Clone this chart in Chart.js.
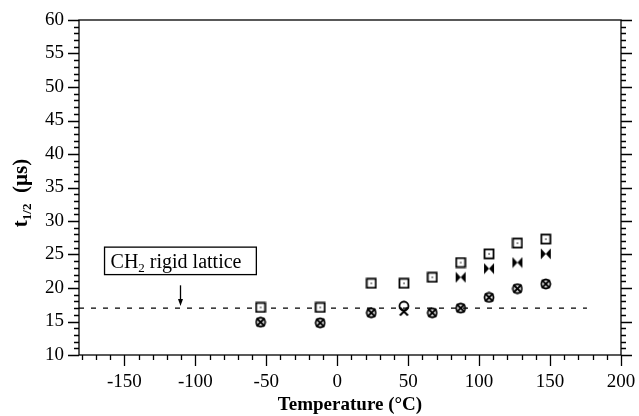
<!DOCTYPE html>
<html>
<head>
<meta charset="utf-8">
<script src="https://cdn.jsdelivr.net/npm/chart.js@4"></script>
<style>
  body { margin: 0; background: #fff; }
  canvas { display: block; }
</style>
</head>
<body>
<canvas id="grafico" width="639" height="416"></canvas>
<script>
// datos
var temps = [-54, -12, 24, 47, 67, 87, 107, 127, 147];
var squareVals = [17.1, 17.1, 20.7, 20.7, 21.6, 23.8, 25.1, 26.7, 27.3];
var circleVals = [14.9, 14.8, 16.3, 17.3, 16.3, 17.0, 18.6, 19.9, 20.6];
var crossVals = [14.9, 14.8, 16.3, 16.5, 16.3, 17.0, 18.6, 19.9, 20.6];
var bowTemps = [87, 107, 127, 147];
var bowVals = [21.6, 22.9, 23.8, 25.1];
var refLineX = [-182, 176];
var refLineY = [17, 17];
var xTicks = [-150, -100, -50, 0, 50, 100, 150, 200];

Chart.defaults.font.family = "'Liberation Serif', serif";
Chart.defaults.color = '#000';

function pares(xs, ys) {
    return xs.map(function(x, i) { return { x: x, y: ys[i] }; });
}

// marcadores dibujados en canvas pequeños
function marcador(size, dibujar) {
    var c = document.createElement('canvas');
    c.width = size; c.height = size;
    var g = c.getContext('2d');
    g.strokeStyle = '#000';
    g.fillStyle = '#000';
    dibujar(g, size);
    return c;
}

var cuadrado = marcador(12, function(g) {
    g.fillStyle = '#fff';
    g.fillRect(1, 1, 10, 10);
    g.lineWidth = 1.8;
    g.strokeRect(1.5, 1.5, 9, 9);
    g.fillStyle = '#000';
    g.fillRect(5.4, 5.4, 1.3, 1.3);
});

var circulo = marcador(12, function(g) {
    g.lineWidth = 1.8;
    g.beginPath();
    g.arc(6, 6, 4.5, 0, Math.PI * 2);
    g.stroke();
});

var cruz = marcador(11, function(g) {
    g.lineWidth = 2;
    g.beginPath();
    g.moveTo(1.5, 1.5); g.lineTo(9.5, 9.5);
    g.moveTo(9.5, 1.5); g.lineTo(1.5, 9.5);
    g.stroke();
});

var corbata = marcador(12, function(g) {
    g.beginPath();
    g.moveTo(1, 0.5); g.lineTo(1, 11.5); g.lineTo(6, 6); g.closePath();
    g.moveTo(11, 0.5); g.lineTo(11, 11.5); g.lineTo(6, 6); g.closePath();
    g.fill();
});

// ejes con marcas menores y anotacion
var decoracion = {
    id: 'decoracion',
    afterDraw: function(chart) {
        var ctx = chart.ctx;
        var a = chart.chartArea;
        var xs = chart.scales.x, ys = chart.scales.y;
        ctx.save();
        ctx.strokeStyle = '#000';
        ctx.lineWidth = 1.3;
        ctx.strokeRect(a.left, a.top, a.right - a.left, a.bottom - a.top);
        ctx.beginPath();
        for (var v = 10; v <= 60; v++) {
            var py = Math.round(ys.getPixelForValue(v)) + 0.5;
            var len = v % 5 === 0 ? 11 : 5;
            ctx.moveTo(a.left - len, py); ctx.lineTo(a.left, py);
            ctx.moveTo(a.right, py); ctx.lineTo(a.right + len, py);
        }
        for (var t = -180; t <= 200; t += 10) {
            var px = Math.round(xs.getPixelForValue(t)) + 0.5;
            var l2 = t % 50 === 0 ? 11 : 5;
            ctx.moveTo(px, a.bottom); ctx.lineTo(px, a.bottom + l2);
        }
        ctx.stroke();

        // titulo del eje y con subindice
        ctx.translate(20, 193);
        ctx.rotate(-Math.PI / 2);
        ctx.textBaseline = 'alphabetic';
        var f1 = "bold 21px 'Liberation Serif'", f2 = "bold 13px 'Liberation Serif'";
        ctx.font = f1; var w1 = ctx.measureText('t').width;
        ctx.font = f2; var w2 = ctx.measureText('1/2').width;
        ctx.font = f1; var w3 = ctx.measureText('  (\u00b5s)').width;
        var x0 = -(w1 + w2 + w3) / 2;
        ctx.font = f1; ctx.fillText('t', x0, 7);
        ctx.font = f2; ctx.fillText('1/2', x0 + w1, 11);
        ctx.font = f1; ctx.fillText('  (\u00b5s)', x0 + w1 + w2, 7);
        ctx.restore();

        // recuadro "CH2 rigid lattice" y flecha
        ctx.save();
        var bl = xs.getPixelForValue(-164), br = xs.getPixelForValue(-57);
        var bt = ys.getPixelForValue(26.1), bb = ys.getPixelForValue(22.0);
        ctx.fillStyle = '#fff';
        ctx.fillRect(bl, bt, br - bl, bb - bt);
        ctx.strokeStyle = '#000';
        ctx.lineWidth = 1.3;
        ctx.strokeRect(bl, bt, br - bl, bb - bt);
        ctx.fillStyle = '#000';
        ctx.textBaseline = 'alphabetic';
        var ty = (bt + bb) / 2 + 7;
        ctx.font = "20px 'Liberation Serif'";
        var tx = bl + 6;
        ctx.fillText('CH', tx, ty);
        tx += ctx.measureText('CH').width;
        ctx.font = "13px 'Liberation Serif'";
        ctx.fillText('2', tx, ty + 4);
        tx += ctx.measureText('2').width;
        ctx.font = "20px 'Liberation Serif'";
        ctx.fillText(' rigid lattice', tx, ty);

        var ax = Math.round(xs.getPixelForValue(-111)) + 0.5;
        var ay1 = ys.getPixelForValue(20.4), ay2 = ys.getPixelForValue(17.3);
        ctx.lineWidth = 1.3;
        ctx.beginPath();
        ctx.moveTo(ax, ay1); ctx.lineTo(ax, ay2 - 5);
        ctx.stroke();
        ctx.beginPath();
        ctx.moveTo(ax - 2.5, ay2 - 7); ctx.lineTo(ax + 2.5, ay2 - 7); ctx.lineTo(ax, ay2);
        ctx.closePath();
        ctx.fill();
        ctx.restore();
    }
};

var ctx = document.getElementById('grafico').getContext('2d');

var grafico = new Chart(ctx, {
    type: 'scatter',
    data: {
        datasets: [
            { label: 'cuadrados', data: pares(temps, squareVals), pointStyle: cuadrado, pointRadius: 5 },
            { label: 'corbatas', data: pares(bowTemps, bowVals), pointStyle: corbata, pointRadius: 5 },
            { label: 'cruces', data: pares(temps, crossVals), pointStyle: cruz, pointRadius: 5 },
            { label: 'circulos', data: pares(temps, circleVals), pointStyle: circulo, pointRadius: 5 },
            {
                label: 'red rigida', type: 'line', data: pares(refLineX, refLineY),
                borderColor: '#000', borderWidth: 1.4, borderDash: [5, 7],
                pointRadius: 0, fill: false, order: 1
            }
        ]
    },
    options: {
        responsive: false,
        animation: false,
        layout: { padding: { top: 20, right: 18, left: 0, bottom: 0 } },
        plugins: { legend: { display: false }, tooltip: { enabled: false } },
        scales: {
            x: {
                type: 'linear', min: -182, max: 200,
                grid: { display: false, drawTicks: false },
                border: { display: false },
                afterBuildTicks: function(s) { s.ticks = xTicks.map(function(v) { return { value: v }; }); },
                afterFit: function(s) { s.height = 61; s.paddingLeft = 0; s.paddingRight = 0; },
                ticks: { font: { size: 19 }, padding: 16, maxRotation: 0, autoSkip: false },
                title: {
                    display: true, text: 'Temperature (\u00b0C)',
                    font: { size: 19, weight: 'bold' }, padding: { top: 0, bottom: 0 }
                }
            },
            y: {
                min: 10, max: 60,
                grid: { display: false, drawTicks: false },
                border: { display: false },
                afterFit: function(s) { s.width = 79; s.paddingTop = 0; s.paddingBottom = 0; },
                ticks: { stepSize: 5, font: { size: 19 }, padding: 15 }
            }
        }
    },
    plugins: [decoracion]
});
</script>
</body>
</html>
